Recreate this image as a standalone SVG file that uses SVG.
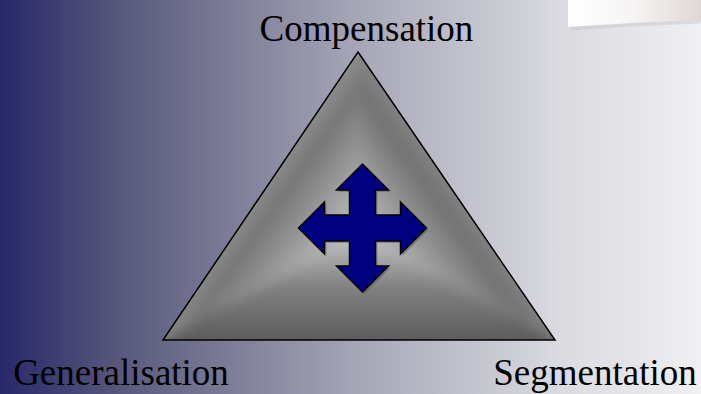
<svg xmlns="http://www.w3.org/2000/svg" width="701" height="394" viewBox="0 0 701 394">
  <style>
    .lbl { font-family: "Liberation Serif", "Times New Roman", serif; font-size: 37px; fill: #000; text-anchor: middle; }
    .edge { fill: none; stroke: #000; stroke-width: 1.5; stroke-linejoin: miter; }
    .arrow { fill: #000080; stroke: #000; stroke-width: 1.5; stroke-linejoin: miter; }
  </style>
  <defs>
    <linearGradient id="bg" x1="0" y1="0" x2="701" y2="0" gradientUnits="userSpaceOnUse">
      <stop offset="0" stop-color="#28286a"/>
      <stop offset="0.17" stop-color="#58587c"/>
      <stop offset="0.5" stop-color="#a4a4b6"/>
      <stop offset="0.8" stop-color="#dadae0"/>
      <stop offset="1" stop-color="#f0f0f2"/>
    </linearGradient>
    <linearGradient id="paper" x1="568" y1="0" x2="701" y2="0" gradientUnits="userSpaceOnUse">
      <stop offset="0" stop-color="#ffffff"/>
      <stop offset="0.5" stop-color="#f6f4f3"/>
      <stop offset="1" stop-color="#e0d6d6"/>
    </linearGradient>
    <linearGradient id="fL" x1="259" y1="166" x2="358.4" y2="236.3" gradientUnits="userSpaceOnUse">
      <stop offset="0" stop-color="#9c9c9c"/>
      <stop offset="0.3" stop-color="#767676"/>
      <stop offset="1" stop-color="#c6c6c6"/>
    </linearGradient>
    <linearGradient id="fR" x1="458" y1="166" x2="358.4" y2="236.3" gradientUnits="userSpaceOnUse">
      <stop offset="0" stop-color="#909090"/>
      <stop offset="0.3" stop-color="#727272"/>
      <stop offset="1" stop-color="#c6c6c6"/>
    </linearGradient>
    <linearGradient id="fB" x1="358.4" y1="340" x2="358.4" y2="236.3" gradientUnits="userSpaceOnUse">
      <stop offset="0" stop-color="#5c5c5c"/>
      <stop offset="0.5" stop-color="#808080"/>
      <stop offset="1" stop-color="#c2c2c2"/>
    </linearGradient>
    <clipPath id="triClip">
      <polygon points="358,52 555,340 163,340"/>
    </clipPath>
    <filter id="soft" filterUnits="userSpaceOnUse" x="80" y="0" width="560" height="420">
      <feGaussianBlur stdDeviation="6"/>
    </filter>
  </defs>

  <rect x="0" y="0" width="701" height="394" fill="url(#bg)"/>

  <g id="paper-curl">
    <path d="M570,0 L701,0 L701,22 Q640,24 570,29 Z" fill="#c8c8cc" opacity="0.5" transform="translate(1,1.5)"/>
    <path d="M568,0 L701,0 L701,20 Q640,22 568,27 Z" fill="url(#paper)"/>
  </g>

  <g id="triangle">
    <g clip-path="url(#triClip)">
      <g filter="url(#soft)">
        <polygon points="358.4,236.3 358.4,0 100,0 100,373.4" fill="url(#fL)"/>
        <polygon points="358.4,236.3 358.4,0 620,0 620,374.3" fill="url(#fR)"/>
        <polygon points="358.4,236.3 100,373.4 100,400 620,400 620,374.3" fill="url(#fB)"/>
      </g>
    </g>
    <polygon class="edge" points="358,52 555,340 163,340"/>
  </g>

  <g id="arrow">
    <path d="M362.5,164 L388.5,190 L375.5,190 L375.5,215 L400.5,215 L400.5,202 L426.5,228 L400.5,254 L400.5,241 L375.5,241 L375.5,266 L388.5,266 L362.5,292 L336.5,266 L349.5,266 L349.5,241 L324.5,241 L324.5,254 L298.5,228 L324.5,202 L324.5,215 L349.5,215 L349.5,190 L336.5,190 Z" fill="#404040" opacity="0.35" transform="translate(2,2)"/>
    <path class="arrow" d="M362.5,164 L388.5,190 L375.5,190 L375.5,215 L400.5,215 L400.5,202 L426.5,228 L400.5,254 L400.5,241 L375.5,241 L375.5,266 L388.5,266 L362.5,292 L336.5,266 L349.5,266 L349.5,241 L324.5,241 L324.5,254 L298.5,228 L324.5,202 L324.5,215 L349.5,215 L349.5,190 L336.5,190 Z"/>
  </g>

  <g id="connectors"></g>

  <g id="label-compensation"><text class="lbl" x="366.5" y="41">Compensation</text></g>
  <g id="label-generalisation"><text class="lbl" x="121" y="384.5">Generalisation</text></g>
  <g id="label-segmentation"><text class="lbl" x="595" y="384.5">Segmentation</text></g>
</svg>
